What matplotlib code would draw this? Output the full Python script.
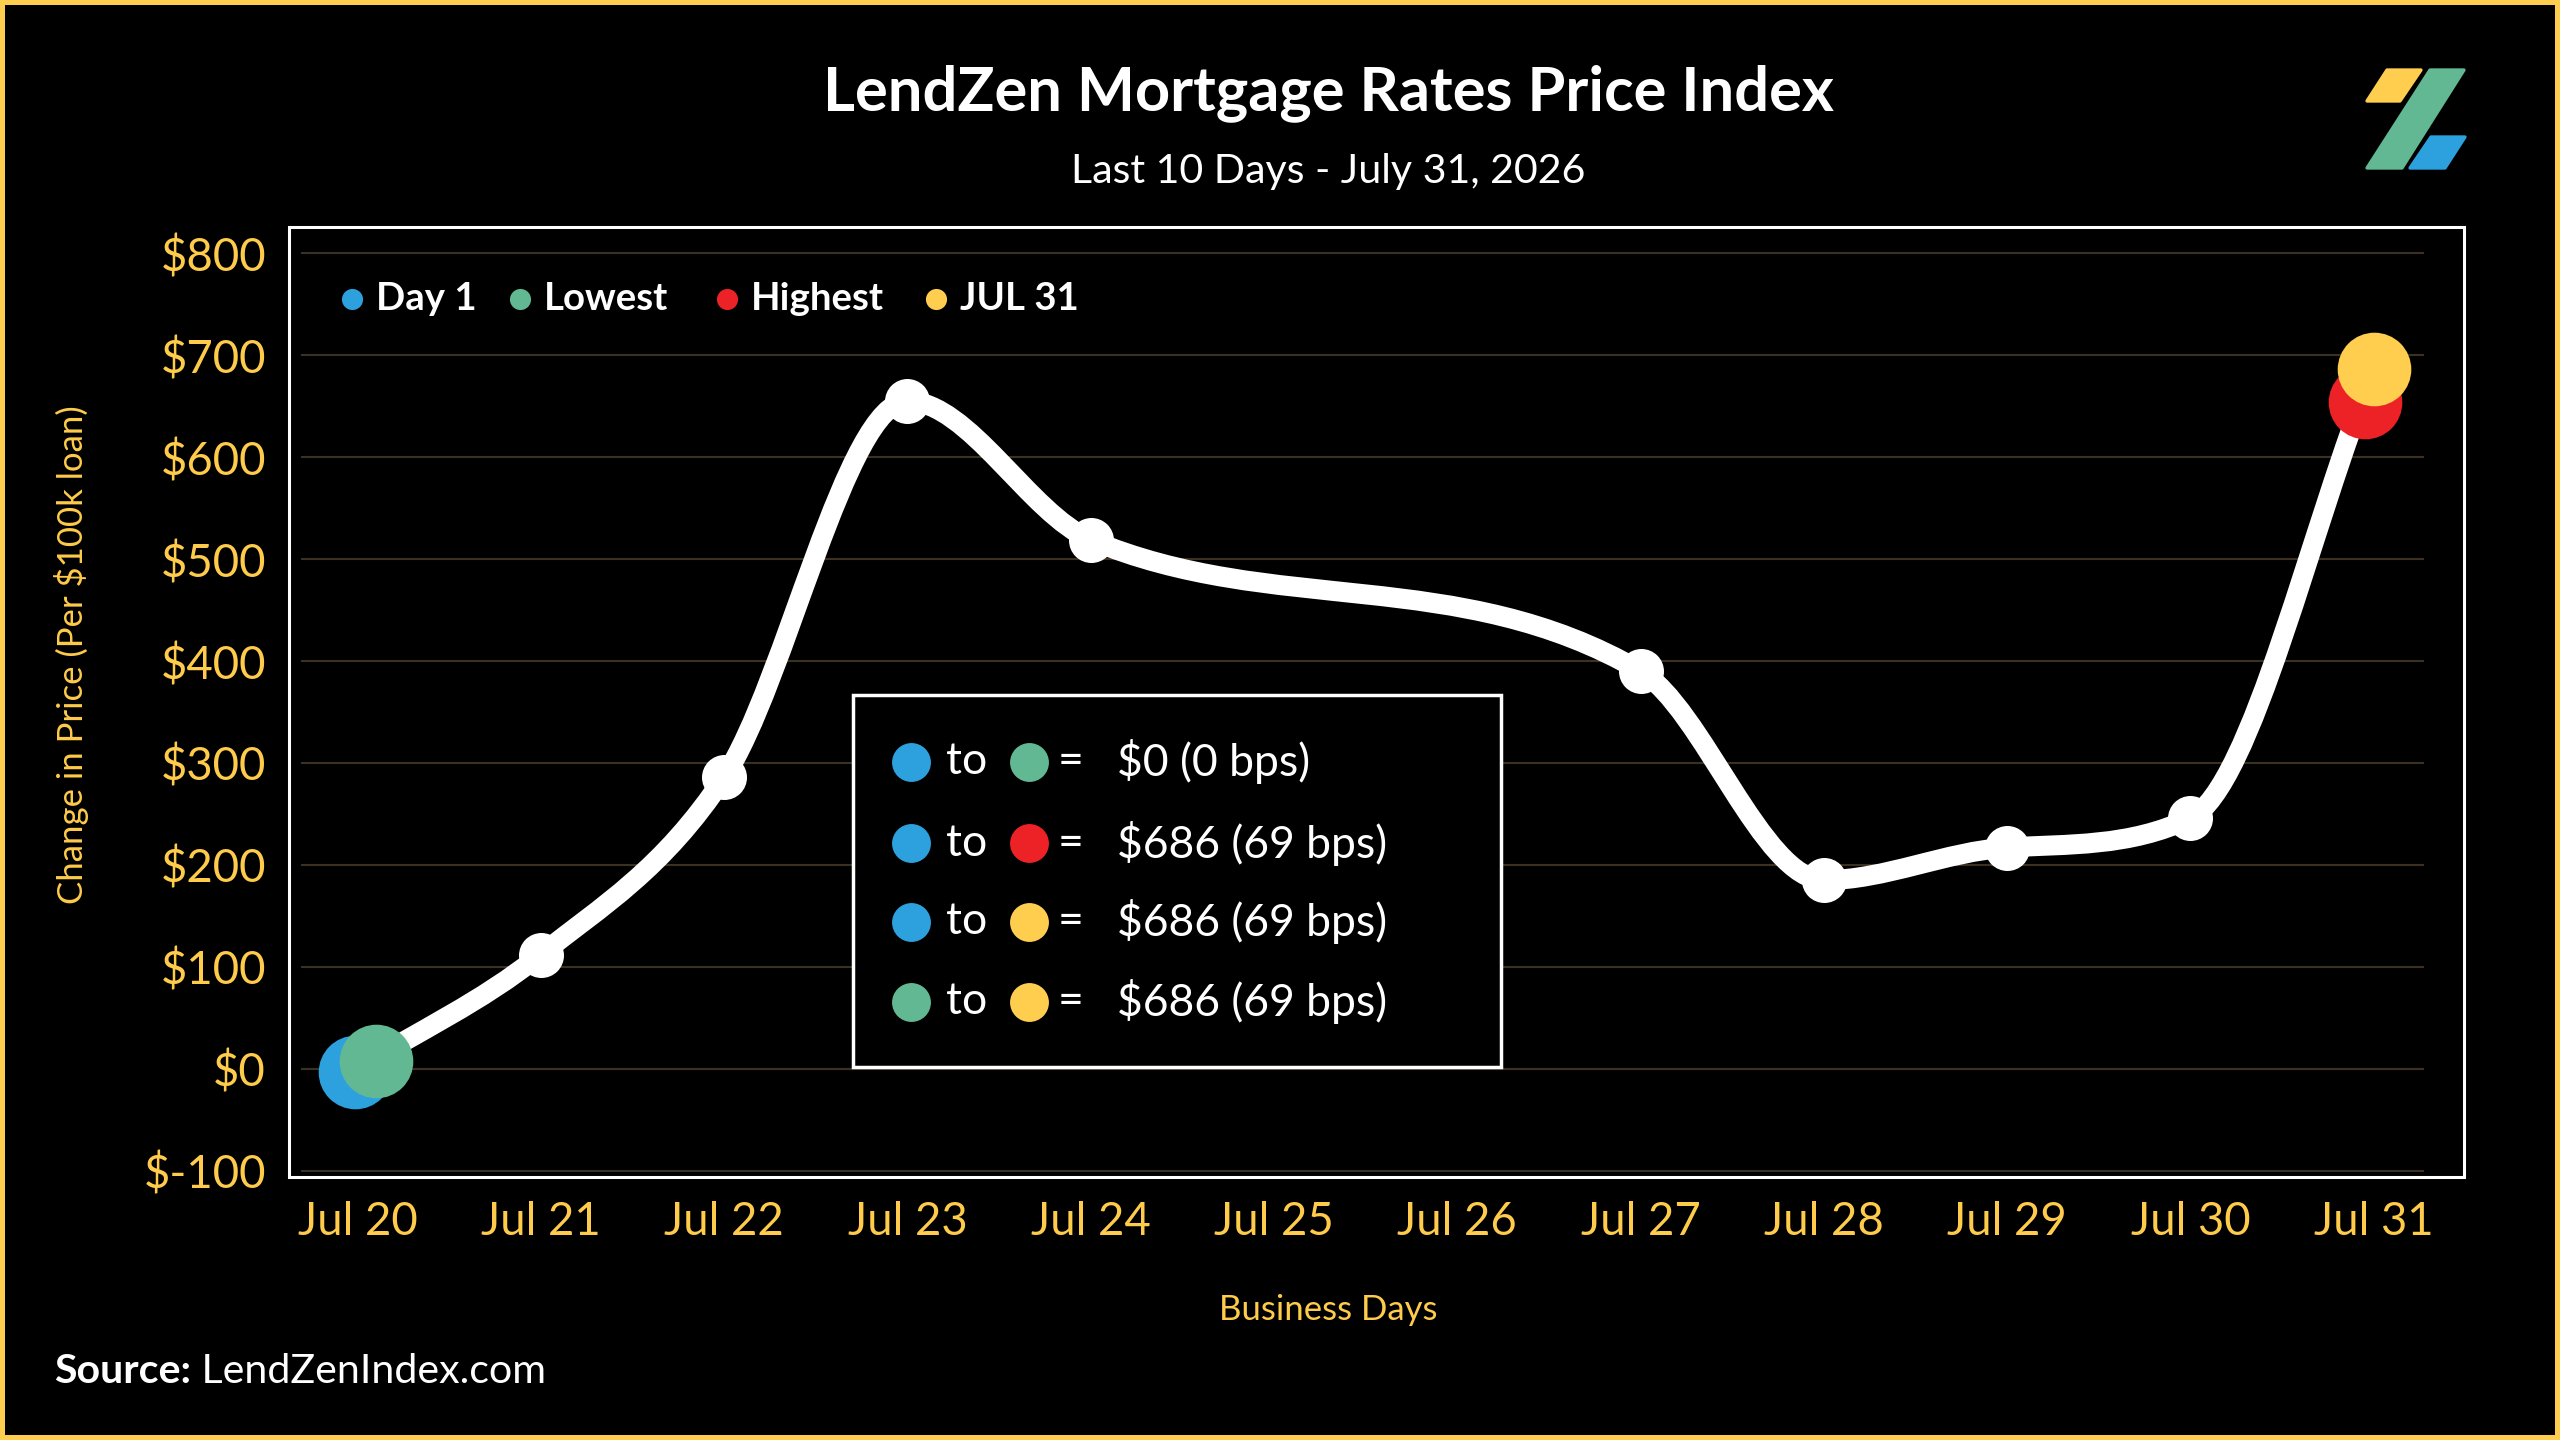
import numpy as np
import matplotlib
matplotlib.use("Agg")
import matplotlib.pyplot as plt
from matplotlib.path import Path
from matplotlib.patches import PathPatch, Rectangle, Polygon
from matplotlib.transforms import ScaledTranslation

# data
days = ["Jul 20", "Jul 21", "Jul 22", "Jul 23", "Jul 24", "Jul 25",
        "Jul 26", "Jul 27", "Jul 28", "Jul 29", "Jul 30", "Jul 31"]
change = [0, 112, 286, 655, 519, None, None, 390, 185, 217, 246, 686]
yticks = [-100, 0, 100, 200, 300, 400, 500, 600, 700, 800]
legend_names = ["Day 1", "Lowest", "Highest", "JUL 31"]
summary_pairs = [("Day 1", "Lowest"), ("Day 1", "Highest"),
                 ("Day 1", "JUL 31"), ("Lowest", "JUL 31")]
summary_values = ["$0 (0 bps)", "$686 (69 bps)", "$686 (69 bps)", "$686 (69 bps)"]

BLUE = "#2CA1DE"
GREEN = "#63B894"
RED = "#EC2227"
YELLOW = "#FFCE4F"
GOLD = "#FFCB4A"
colors = {"Day 1": BLUE, "Lowest": GREEN, "Highest": RED, "JUL 31": YELLOW}

W, H, DPI = 2560, 1440, 200
FONT = "Lato"


def fx(x):
    return x / W


def fy(y):
    return 1 - y / H


def monotone_slopes(xs, ys):
    # same tangents as chart.js "monotone" cubic interpolation
    n = len(xs)
    d = [(ys[i + 1] - ys[i]) / (xs[i + 1] - xs[i]) for i in range(n - 1)]
    m = [0.0] * n
    m[0], m[-1] = d[0], d[-1]
    for i in range(1, n - 1):
        m[i] = 0.0 if np.sign(d[i - 1]) != np.sign(d[i]) else (d[i - 1] + d[i]) / 2
    for i in range(n - 1):
        if d[i] == 0:
            m[i] = m[i + 1] = 0.0
            continue
        a, b = m[i] / d[i], m[i + 1] / d[i]
        s = a * a + b * b
        if s > 9:
            t = 3 / np.sqrt(s)
            m[i], m[i + 1] = a * t * d[i], b * t * d[i]
    return m


fig = plt.figure(figsize=(W / DPI, H / DPI), dpi=DPI, facecolor="black")
ax = fig.add_axes([fx(301), fy(1177), (2424 - 301) / W, (1177 - 227) / H])
ax.set_facecolor("black")
for s in ax.spines.values():
    s.set_visible(False)

xs = [i for i, v in enumerate(change) if v is not None]
ys = [v for v in change if v is not None]

# smooth line through the points
m = monotone_slopes(xs, ys)
verts = [(xs[0], ys[0])]
codes = [Path.MOVETO]
for i in range(len(xs) - 1):
    dx = (xs[i + 1] - xs[i]) / 3
    verts += [(xs[i] + dx, ys[i] + m[i] * dx),
              (xs[i + 1] - dx, ys[i + 1] - m[i + 1] * dx),
              (xs[i + 1], ys[i + 1])]
    codes += [Path.CURVE4] * 3
ax.add_patch(PathPatch(Path(verts, codes), fill=False, edgecolor="white",
                       lw=7.2, capstyle="round", joinstyle="round", zorder=3))
ax.plot(xs, ys, "o", color="white", ms=16.2, mew=0, zorder=4, clip_on=False)

# special points
i_low = xs[int(np.argmin(ys))]
i_high = xs[int(np.argmax(ys))]
special = {"Day 1": (xs[0], ys[0], -2, -3),
           "Lowest": (i_low, change[i_low], 19, 8),
           "Highest": (i_high, change[i_high], -9, -33),
           "JUL 31": (xs[-1], ys[-1], 0, 0)}
for name in ["Day 1", "Lowest", "Highest", "JUL 31"]:
    x, y, ox, oy = special[name]
    tr = ax.transData + ScaledTranslation(ox / DPI, oy / DPI, fig.dpi_scale_trans)
    ax.plot([x], [y], "o", color=colors[name], ms=26.5, mew=0, zorder=5,
            transform=tr, clip_on=False)

ax.set_xlim(-0.308, 11.274)
ax.set_ylim(-106.2, 825.8)
ax.set_xticks(range(len(days)))
ax.set_xticklabels(days)
ax.set_yticks(yticks)
ax.set_yticklabels([f"${v}" for v in yticks])
ax.tick_params(axis="both", length=0, labelcolor=GOLD, labelsize=16.4)
ax.tick_params(axis="y", pad=12.6)
ax.tick_params(axis="x", pad=8.5)
for lab in ax.get_xticklabels() + ax.get_yticklabels():
    lab.set_fontfamily(FONT)
ax.grid(axis="y", color="#3b3122", lw=0.75, zorder=0)
ax.grid(axis="x", visible=False)
ax.axhline(0, color="#7d6120", lw=0.75, zorder=1)

# white frame around plot area
fig.add_artist(Rectangle((fx(289), fy(1177)), (2464 - 289) / W, (1177 - 227) / H,
                         transform=fig.transFigure, fill=False,
                         edgecolor="white", lw=1.1))
# yellow border round the whole picture
fig.add_artist(Rectangle((0, 0), 1, 1, transform=fig.transFigure, fill=False,
                         edgecolor=YELLOW, lw=3.6))

# titles
fig.text(fx(1328), fy(93), "LendZen Mortgage Rates Price Index", color="white",
         fontsize=22.1, fontweight="bold", family=FONT, ha="center", va="center")
fig.text(fx(1328), fy(172), "Last 10 Days - July 31, 2026", color="white",
         fontsize=14.8, family=FONT, ha="center", va="center")
fig.text(fx(1328), fy(1310), "Business Days", color=GOLD, fontsize=12.5,
         family=FONT, ha="center", va="center")
fig.text(fx(72), fy(655), "Change in Price (Per $100k loan)", color=GOLD,
         fontsize=12.5, family=FONT, ha="center", va="center", rotation=90)

# legend row at the top
leg_dot_x = [352, 520, 727, 936]
for name, dx in zip(legend_names, leg_dot_x):
    fig.add_artist(plt.Line2D([fx(dx)], [fy(299)], marker="o", ms=7.6, mew=0,
                              color=colors[name], transform=fig.transFigure))
    fig.text(fx(dx + 24), fy(299), name, color="white", fontsize=13.8,
             fontweight="bold", family=FONT, ha="left", va="center")

# summary box
fig.add_artist(Rectangle((fx(853), fy(1067)), (1501 - 853) / W, (1067 - 695) / H,
                         transform=fig.transFigure, facecolor="black",
                         edgecolor="white", lw=1.25, zorder=6))
row_y = [762, 843, 922, 1002]
for (a, b), val, ry in zip(summary_pairs, summary_values, row_y):
    for name, dx in [(a, 911), (b, 1029)]:
        fig.add_artist(plt.Line2D([fx(dx)], [fy(ry)], marker="o", ms=14, mew=0,
                                  color=colors[name], transform=fig.transFigure,
                                  zorder=7))
    fig.text(fx(946), fy(ry), "to", color="white", fontsize=16, family=FONT,
             ha="left", va="center", zorder=7)
    fig.text(fx(1058), fy(ry), "=", color="white", fontsize=16, family=FONT,
             ha="left", va="center", zorder=7)
    fig.text(fx(1117), fy(ry), val, color="white", fontsize=16, family=FONT,
             ha="left", va="center", zorder=7)

# source line
src = fig.text(fx(54), fy(1383), "Source:", color="white", fontsize=14.8,
               fontweight="bold", family=FONT, ha="left", va="baseline")
ax.annotate(" LendZenIndex.com", xy=(1, 0), xycoords=src, color="white",
            fontsize=14.8, family=FONT, ha="left", va="bottom")

# logo
logo = [
    ([(2367, 101), (2387, 70), (2421, 70), (2400, 101)], YELLOW),
    ([(2367, 168), (2430, 70), (2464, 70), (2402, 168)], GREEN),
    ([(2410, 168), (2431, 137), (2465, 137), (2445, 168)], BLUE),
]
for pts, c in logo:
    fig.add_artist(Polygon([(fx(px), fy(py)) for px, py in pts], closed=True,
                           transform=fig.transFigure, facecolor=c, edgecolor=c,
                           lw=1.2, joinstyle="round"))

fig.savefig("out.png", dpi=DPI, facecolor="black")
